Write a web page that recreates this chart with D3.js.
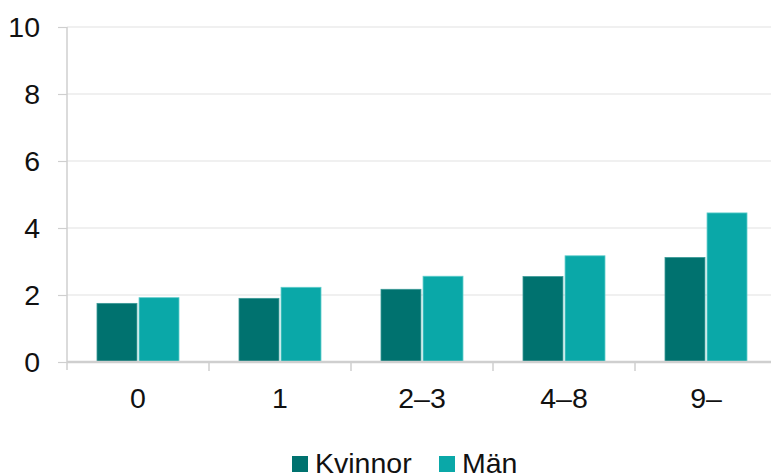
<!DOCTYPE html>
<html>
<head>
<meta charset="utf-8">
<script src="https://cdn.jsdelivr.net/npm/d3@7"></script>
<style>
  body { margin: 0; background: #fff; }
  text { font-family: "Liberation Sans", Arial, sans-serif; fill: #111; }
</style>
</head>
<body>
<svg id="chart" width="771" height="474"></svg>
<script>
// data
const categories = ["0", "1", "2–3", "4–8", "9–"];
const kvinnor = [1.75, 1.90, 2.17, 2.55, 3.12];
const man = [1.92, 2.23, 2.56, 3.17, 4.45];
const seriesNames = ["Kvinnor", "Män"];
const yTicks = [0, 2, 4, 6, 8, 10];

const colors = { "Kvinnor": "#00726f", "Män": "#0aa8a8" };
const fontSize = "28.5px";

const svg = d3.select("#chart");
const plotLeft = 67, plotRight = 777, plotTop = 27, plotBottom = 362;

const x = d3.scaleBand().domain(categories).range([plotLeft, plotRight]).paddingInner(0).paddingOuter(0);
const x1 = d3.scaleBand().domain(seriesNames).range([30, x.bandwidth() - 30]).paddingInner(0.05);
const y = d3.scaleLinear().domain([0, 10]).range([plotBottom, plotTop]);

// gridlines
svg.append("g").selectAll("line")
  .data(yTicks.filter(d => d > 0))
  .enter().append("line")
  .attr("x1", plotLeft).attr("x2", 771)
  .attr("y1", d => y(d)).attr("y2", d => y(d))
  .attr("stroke", "#ebebeb").attr("stroke-width", 1.3);

// y axis
const yAxis = svg.append("g")
  .attr("transform", `translate(${plotLeft},0)`)
  .call(d3.axisLeft(y).tickValues(yTicks).tickSize(9).tickPadding(18));
yAxis.select(".domain").attr("stroke", "#cfcfcf").attr("stroke-width", 1.5)
  .attr("d", `M0,${plotTop}V${plotBottom + 8}`);
yAxis.selectAll(".tick line").attr("stroke", "#cfcfcf").attr("stroke-width", 1.2);
yAxis.selectAll(".tick text").style("font-size", fontSize).attr("fill", "#111")
  .attr("font-family", "Liberation Sans, Arial, sans-serif").attr("dy", "0.34em");

// bars
const rows = categories.map((c, i) => ({ cat: c, vals: [kvinnor[i], man[i]] }));
const groups = svg.append("g").selectAll("g")
  .data(rows).enter().append("g")
  .attr("transform", d => `translate(${x(d.cat)},0)`);
groups.selectAll("rect")
  .data(d => d.vals.map((v, j) => ({ s: seriesNames[j], v })))
  .enter().append("rect")
  .attr("x", d => x1(d.s))
  .attr("width", x1.bandwidth())
  .attr("y", d => y(d.v))
  .attr("height", d => plotBottom - y(d.v))
  .attr("fill", d => colors[d.s])
  .attr("stroke", d => d.s === "Kvinnor" ? "#3a9a97" : "#5fcdcb")
  .attr("stroke-width", 0.8);

// x axis
const xAxis = svg.append("g")
  .attr("transform", `translate(0,${plotBottom})`)
  .call(d3.axisBottom(x).tickSize(0).tickPadding(26));
xAxis.select(".domain").attr("stroke", "#cfcfcf").attr("stroke-width", 2.5)
  .attr("d", `M${plotLeft},0H771`);
xAxis.selectAll(".tick text").style("font-size", fontSize).attr("fill", "#111")
  .attr("font-family", "Liberation Sans, Arial, sans-serif");
svg.append("g").selectAll("line")
  .data(categories.slice(1).concat(["end"]))
  .enter().append("line")
  .attr("x1", (d, i) => plotLeft + x.bandwidth() * (i + 1))
  .attr("x2", (d, i) => plotLeft + x.bandwidth() * (i + 1))
  .attr("y1", plotBottom).attr("y2", plotBottom + 9)
  .attr("stroke", "#cfcfcf").attr("stroke-width", 1.5);

// legend
const legend = svg.append("g");
const legendX = [292, 439];
seriesNames.forEach((s, i) => {
  legend.append("rect")
    .attr("x", legendX[i]).attr("y", 456)
    .attr("width", 16).attr("height", 16)
    .attr("fill", colors[s]);
  legend.append("text")
    .attr("x", legendX[i] + 23).attr("y", 473)
    .style("font-size", fontSize)
    .text(s);
});
</script>
</body>
</html>
